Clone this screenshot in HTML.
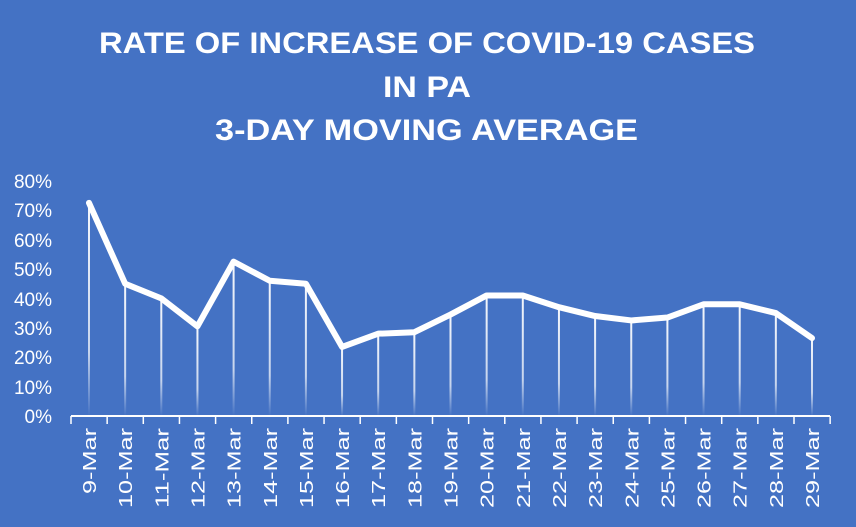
<!DOCTYPE html>
<html><head><meta charset="utf-8"><style>
body{margin:0;background:#4472C4;}
svg{display:block;font-family:"Liberation Sans",sans-serif;}
</style></head><body>
<svg width="856" height="527" xmlns="http://www.w3.org/2000/svg">
<defs>
<linearGradient id="g" x1="0" y1="0" x2="0" y2="1" gradientUnits="objectBoundingBox">
<stop offset="0" stop-color="#fff" stop-opacity="0.95"/>
<stop offset="0.7" stop-color="#fff" stop-opacity="0.7"/>
<stop offset="1" stop-color="#fff" stop-opacity="0"/>
</linearGradient>
</defs>
<rect width="856" height="527" fill="#4472C4"/>
<g fill="#fff" font-weight="bold" font-size="30" text-anchor="start">
<text x="99" y="53" textLength="656" lengthAdjust="spacingAndGlyphs">RATE OF INCREASE OF COVID-19 CASES</text>
<text x="383" y="97" textLength="88" lengthAdjust="spacingAndGlyphs">IN PA</text>
<text x="215" y="140" textLength="423" lengthAdjust="spacingAndGlyphs">3-DAY MOVING AVERAGE</text>
</g>
<g fill="#fff" font-size="19" text-anchor="end">
<text x="52" y="188">80%</text><text x="52" y="217">70%</text><text x="52" y="247">60%</text>
<text x="52" y="276">50%</text><text x="52" y="306">40%</text><text x="52" y="335">30%</text>
<text x="52" y="364">20%</text><text x="52" y="394">10%</text><text x="52" y="423">0%</text>
</g>
<g id="chart"></g>
</svg>
<script>
const v=[72.5,45,40,30.5,52.5,46,45,23.5,28,28.5,34.5,41,41,37,34,32.5,33.5,38,38,35,26.5];
const X=i=>89+i*36.15, Y=p=>416-p*2.94;
let s='';
v.forEach((p,i)=>{s+=`<rect x="${X(i)-1}" y="${Y(p)}" width="2" height="${416-Y(p)}" fill="url(#g)"/>`;});
s+=`<line x1="71" y1="416" x2="830" y2="416" stroke="#fff" stroke-width="2"/>`;
for(let i=0;i<=21;i++){const x=71+i*36.15;s+=`<line x1="${x}" y1="416" x2="${x}" y2="424" stroke="#fff" stroke-width="1.5"/>`;}
s+=`<polyline points="${v.map((p,i)=>X(i)+','+Y(p)).join(' ')}" fill="none" stroke="#fff" stroke-width="6" stroke-linejoin="round" stroke-linecap="round"/>`;
v.forEach((p,i)=>{const t=(9+i)+'-Mar';const L=t.length==5?66:80;s+=`<text transform="translate(${X(i)+7},428) rotate(-90)" text-anchor="end" fill="#fff" font-size="18" textLength="${L}" lengthAdjust="spacingAndGlyphs">${t}</text>`;});
document.getElementById('chart').innerHTML=s;
</script>
</body></html>
